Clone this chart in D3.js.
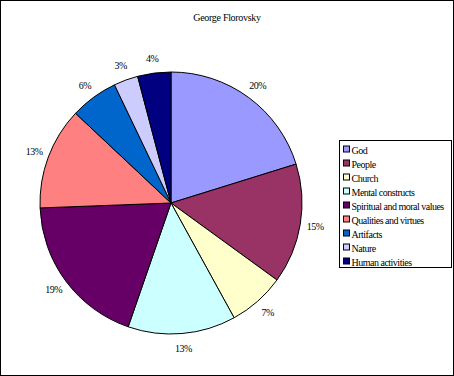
<!DOCTYPE html>
<html>
<head>
<meta charset="utf-8">
<script src="https://cdn.jsdelivr.net/npm/d3@7"></script>
<style>
  body { margin: 0; background: #fff; }
  svg { display: block; }
  text { font-family: 'Liberation Serif', 'DejaVu Serif', serif; fill: #000; }
</style>
</head>
<body>
<svg id="svg" width="454" height="376"></svg>
<script>
const categories = ['God', 'People', 'Church', 'Mental constructs', 'Spiritual and moral values',
  'Qualities and virtues', 'Artifacts', 'Nature', 'Human activities']
const shares = [20.2, 14.8, 7.0, 13.3, 19.1, 12.6, 5.9, 3.0, 4.1]
const colours = ['#9999FF', '#993366', '#FFFFCC', '#CCFFFF', '#660066',
  '#FF8080', '#0066CC', '#CCCCFF', '#000080']
const title = 'George Florovsky'

const width = 454
const height = 376
const cx = 171
const cy = 203
const radius = 131

const data = categories.map((c, i) => ({ name: c, value: shares[i] }))
const colour = d3.scaleOrdinal().domain(categories).range(colours)
const pctFormat = v => d3.format('.0f')(v) + '%'

const svg = d3.select('#svg')

svg.append('rect')
  .attr('x', 0.5).attr('y', 0.5)
  .attr('width', width - 1).attr('height', height - 1)
  .attr('fill', '#fff').attr('stroke', '#000')

svg.append('text')
  .attr('x', 227).attr('y', 21)
  .attr('text-anchor', 'middle')
  .style('font-size', '10px')
  .style('letter-spacing', '-0.3px')
  .text(title)

const pie = d3.pie().sort(null).value(d => d.value)
const arcs = pie(data)
const arc = d3.arc().innerRadius(0).outerRadius(radius)
const labelArc = d3.arc().innerRadius(146).outerRadius(146)

const g = svg.append('g').attr('transform', `translate(${cx},${cy})`)

g.selectAll('path')
  .data(arcs)
  .join('path')
  .attr('d', arc)
  .attr('fill', d => colour(d.data.name))
  .attr('stroke', '#000')
  .attr('stroke-width', 1)

g.selectAll('text')
  .data(arcs)
  .join('text')
  .attr('transform', d => `translate(${labelArc.centroid(d)})`)
  .attr('text-anchor', 'middle')
  .attr('dy', '0.35em')
  .style('font-size', '10px')
  .style('letter-spacing', '-0.5px')
  .text(d => pctFormat(d.data.value))

// legend
const legend = svg.append('g').attr('transform', 'translate(339.5,140.5)')
legend.append('rect')
  .attr('width', 112).attr('height', 127)
  .attr('fill', '#fff').attr('stroke', '#000')

const item = legend.selectAll('g.item')
  .data(categories)
  .join('g')
  .attr('class', 'item')
  .attr('transform', (d, i) => `translate(4,${10 + i * 14})`)

item.append('rect')
  .attr('x', 0).attr('y', -4.5)
  .attr('width', 6).attr('height', 6)
  .attr('fill', d => colour(d))
  .attr('stroke', '#000')

item.append('text')
  .attr('x', 8).attr('y', 0)
  .attr('dy', '0.35em')
  .style('font-size', '10px')
  .style('letter-spacing', '-0.5px')
  .text(d => d)
</script>
</body>
</html>
